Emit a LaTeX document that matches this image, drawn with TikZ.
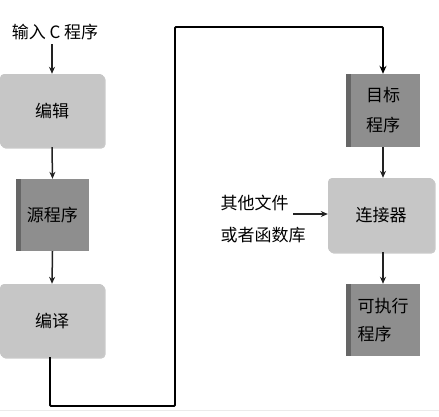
\documentclass[tikz,border=0pt]{standalone}
\usepackage{fontspec}
\newfontfamily\cjk{Noto Sans CJK SC}
\usetikzlibrary{arrows.meta,shadows}
\definecolor{lightbox}{HTML}{C6C6C6}
\definecolor{darkbox}{HTML}{8E8E8E}
\definecolor{darkstrip}{HTML}{666666}
\definecolor{lineclr}{HTML}{222222}
\begin{document}
\begin{tikzpicture}[x=1pt,y=-1pt,
  font=\cjk\fontsize{17}{20}\selectfont,
  lightnode/.style={draw=none,fill=lightbox,rounded corners=4pt,minimum width=104pt,minimum height=73pt,inner sep=0pt,
    drop shadow={shadow xshift=1.5pt,shadow yshift=-1.5pt,fill=black!35,opacity=0.6}},
  darknode/.style={draw=none,fill=darkbox,minimum width=73pt,minimum height=72pt,inner sep=0pt,align=left,
    path picture={\fill[darkstrip] (path picture bounding box.north west) rectangle ([xshift=5pt]path picture bounding box.south west);}},
  arr/.style={draw=lineclr,line width=1.5pt,-{Stealth[length=7pt,width=6pt]}},
  thick arr/.style={draw=black,line width=1.8pt,-{Stealth[length=8pt,width=7pt]}},
  lbl/.style={inner sep=0pt,text=black}]
\useasboundingbox (0,0) rectangle (439,416);
\fill[white] (0,0) rectangle (439,416);
\draw[black!8,line width=1pt] (0,410) -- (439,410);

\node[lbl] (input) at (55,32) {输入 C 程序};
\node[lightnode] (edit) at (52,110.5) {编辑};
\node[darknode] (src) at (52.5,215) {源程序};
\node[lightnode] (compile) at (52,320.5) {编译};
\node[darknode,minimum width=74pt,minimum height=73pt] (obj) at (383,110.5) {目标\\[10pt]程序};
\node[lightnode,minimum width=106pt,minimum height=74pt] (link) at (381,215) {连接器};
\node[darknode,minimum width=74pt,minimum height=72pt] (exe) at (383,320) {可执行\\[8pt]程序};
\node[lbl,align=left] (lib) at (263,219) {其他文件\\[12pt]或者函数库};
\coordinate (c1) at (50,406);
\coordinate (c2) at (175,406);
\coordinate (c3) at (175,27);
\coordinate (c4) at (383,27);

\draw[arr] (input.south -| edit.north) ++(0,4) -- (edit.north);
\draw[arr] (edit.south) -- (src.north);
\draw[arr] (src.south) -- (compile.south |- compile.north);
\draw[arr] (obj.south) -- (obj.south |- link.north);
\draw[arr] (obj.south |- link.south) -- (exe.north);
\draw[arr] (293,214) -- (link.west |- 0,214);
\draw[thick arr,rounded corners=1pt] (compile.south -| c1) -- (c1) -- (c2) -- (c3) -- (c4) -- (obj.north -| c4);
\end{tikzpicture}
\end{document}
